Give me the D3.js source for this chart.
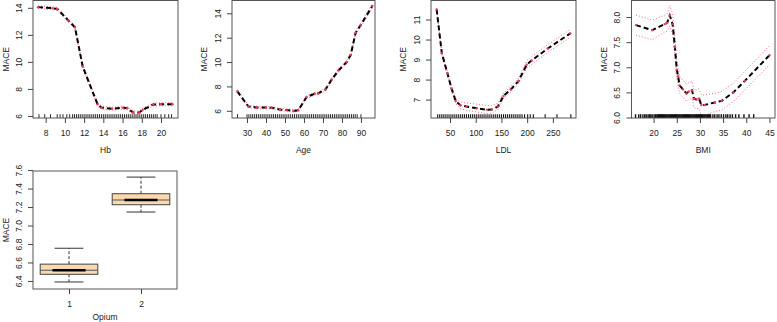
<!DOCTYPE html>
<html><head><meta charset="utf-8">
<script src="https://cdn.jsdelivr.net/npm/d3@7"></script>
<style>
body{margin:0;background:#fff;}
svg text{font-family:"Liberation Sans",Arial,Helvetica,sans-serif;fill:#222;font-size:8.5px;}
</style></head><body>
<svg id="chart" width="777" height="322"></svg>
<script>
// ---------- Hb ----------
const hbX  = [7.2, 8.7, 9.2, 10.35, 11.05, 11.85, 13.4, 13.8, 14.9, 16.0, 16.5, 17.1, 17.75, 18.1, 19.2, 20.0, 21.2];
const hbY  = [14.05, 13.97, 13.92, 13.07, 12.55, 9.66, 6.86, 6.62, 6.53, 6.62, 6.57, 6.26, 6.26, 6.46, 6.85, 6.87, 6.87];
const hbLo = [13.95, 13.87, 13.81, 12.95, 12.42, 9.52, 6.74, 6.5, 6.42, 6.5, 6.45, 6.14, 6.15, 6.35, 6.74, 6.76, 6.74];
const hbHi = [14.15, 14.07, 14.03, 13.19, 12.68, 9.8, 6.98, 6.74, 6.64, 6.74, 6.69, 6.38, 6.37, 6.57, 6.96, 6.98, 7.0];
const hbRug = [7.3, 7.9, 8.5, 9.2, 9.5, 9.8, 10.2, 10.5, 10.8, 11.0, 11.2, 11.4, 11.6, 11.8, 12.0, 12.2, 12.4, 12.6, 12.8,
  13.0, 13.2, 13.4, 13.6, 13.8, 14.0, 14.2, 14.4, 14.6, 14.8, 15.0, 15.2, 15.4, 15.6, 15.8, 16.0, 16.2, 16.4, 16.6, 16.8,
  17.0, 17.2, 17.4, 17.6, 17.8, 18.0, 18.2, 18.4, 18.6, 18.8, 19.0, 19.2, 19.4, 19.6, 20.0, 20.4, 20.8, 21.1];
const hbXTicks = [8, 10, 12, 14, 16, 18, 20];
const hbYTicks = [6, 8, 10, 12, 14];

// ---------- Age ----------
const ageX  = [24.9, 30.7, 35.1, 40, 43, 47.4, 50.9, 54.4, 57, 61.4, 65.8, 67.5, 71.4, 74.6, 78.1, 82.5, 84.6, 87.2, 89.8, 96];
const ageY  = [7.6, 6.36, 6.27, 6.27, 6.25, 6.11, 6.06, 5.98, 6.05, 7.13, 7.41, 7.43, 7.76, 8.57, 9.3, 10.0, 10.59, 12.4, 13.02, 14.6];
const ageLo = [7.48, 6.26, 6.17, 6.17, 6.15, 6.01, 5.96, 5.88, 5.95, 7.02, 7.3, 7.32, 7.64, 8.45, 9.17, 9.86, 10.45, 12.24, 12.86, 14.42];
const ageHi = [7.72, 6.46, 6.37, 6.37, 6.35, 6.21, 6.16, 6.08, 6.15, 7.24, 7.52, 7.54, 7.88, 8.69, 9.43, 10.14, 10.73, 12.56, 13.18, 14.78];
const ageRug = [25, 30, 31, 32, 33, 34, 35, 36, 37, 38, 39, 40, 41, 42, 43, 44, 45, 46, 47, 48, 49, 50, 51, 52, 53, 54, 55,
  56, 57, 58, 59, 60, 61, 62, 63, 64, 65, 66, 67, 68, 69, 70, 71, 72, 73, 74, 75, 76, 77, 78, 79, 80, 81, 82, 83, 84, 85, 86, 87, 88, 90];
const ageXTicks = [30, 40, 50, 60, 70, 80, 90];
const ageYTicks = [6, 8, 10, 12, 14];

// ---------- LDL ----------
const ldlX  = [24, 34, 45, 53, 61, 70, 82, 102, 122, 131, 143, 154, 168, 183, 199, 209, 240, 284];
const ldlY  = [11.5, 9.32, 8.3, 7.55, 6.93, 6.72, 6.65, 6.57, 6.49, 6.5, 6.65, 7.18, 7.5, 7.92, 8.74, 8.96, 9.55, 10.31];
const ldlLo = [11.44, 9.24, 8.2, 7.44, 6.8, 6.55, 6.47, 6.38, 6.3, 6.32, 6.5, 7.05, 7.38, 7.78, 8.56, 8.76, 9.36, 10.11];
const ldlHi = [11.56, 9.4, 8.4, 7.66, 7.06, 6.88, 6.83, 6.77, 6.7, 6.7, 6.82, 7.32, 7.64, 8.06, 8.94, 9.16, 9.74, 10.51];
const ldlRug = [26, 30, 34, 38, 42, 46, 50, 54, 58, 62, 66, 70, 74, 78, 82, 86, 90, 94, 98, 102, 106, 110, 114, 118, 122,
  126, 130, 134, 138, 142, 146, 150, 154, 158, 162, 166, 170, 174, 178, 182, 186, 190, 195, 201, 206, 212, 235, 258, 285];
const ldlXTicks = [50, 100, 150, 200, 250];
const ldlYTicks = [7, 8, 9, 10, 11];

// ---------- BMI ----------
const bmiX  = [16.2, 19.7, 22.4, 22.9, 23.5, 24.1, 24.6, 25.0, 25.3, 25.6, 26.35, 27.1, 27.6, 28.3, 28.7, 29.3, 29.8, 30.3, 31.05, 33.2, 34.7, 37.2, 39.7, 45.0];
const bmiY  = [7.84, 7.74, 7.86, 7.88, 8.03, 7.86, 7.4, 6.95, 6.82, 6.64, 6.56, 6.48, 6.52, 6.54, 6.37, 6.36, 6.38, 6.25, 6.25, 6.3, 6.33, 6.5, 6.73, 7.24];
const bmiLo = [7.64, 7.55, 7.7, 7.72, 7.82, 7.66, 7.22, 6.78, 6.65, 6.48, 6.4, 6.32, 6.36, 6.38, 6.2, 6.18, 6.18, 6.05, 6.04, 6.12, 6.15, 6.32, 6.55, 7.05];
const bmiHi = [8.04, 7.94, 8.04, 8.06, 8.23, 8.06, 7.6, 7.13, 7.0, 6.82, 6.74, 6.66, 6.7, 6.72, 6.55, 6.55, 6.57, 6.45, 6.45, 6.48, 6.52, 6.68, 6.92, 7.43];
const bmiRug = [16.1, 16.8, 17.2, 17.7, 18.1, 18.4, 18.8, 19.1, 19.4, 19.7, 20.1, 20.4, 20.7, 20.9, 21.1,
  21.3, 21.5, 21.7, 21.9, 22.1, 22.3, 22.5, 22.7, 22.9, 23.1, 23.3, 23.5, 23.7, 23.9, 24.1, 24.3, 24.5, 24.7, 24.9,
  25.1, 25.3, 25.5, 25.7, 25.9, 26.1, 26.3, 26.5, 26.7, 26.9, 27.1, 27.3, 27.5, 27.7, 27.9, 28.1, 28.3, 28.5, 28.7, 28.9,
  29.1, 29.3, 29.5, 29.7, 29.9, 30.1, 30.3, 30.5, 30.7, 30.9, 31.1, 31.3, 31.5, 31.7, 31.9, 32.1, 32.3,
  32.8, 33.2, 33.7, 34.1, 34.6, 35.1, 35.6, 36.0, 36.5, 37.0, 37.7, 38.4, 39.5, 40.6, 41.6];
const bmiXTicks = [20, 25, 30, 35, 40, 45];
const bmiYTicks = [6.0, 6.5, 7.0, 7.5, 8.0];

// ---------- Opium boxplot ----------
const opiumGroups = ["1", "2"];
const opiumLowWhisker = [6.389, 7.146];
const opiumQ1 = [6.472, 7.225];
const opiumMedian = [6.516, 7.276];
const opiumQ3 = [6.582, 7.344];
const opiumHighWhisker = [6.754, 7.524];
const opiumYTicks = [6.4, 6.6, 6.8, 7.0, 7.2, 7.4, 7.6];

const svg = d3.select("#chart");
const TXT = "#222";
const RED = "#ee3d5c";
const FS = "8.5px";

function axes(g, x, y, W, H, xTicks, yTicks, yFmt, xFmt, xLabel, xTitleOff, left) {
  const ax = g.append("g").attr("transform", `translate(0,${H})`)
    .call(d3.axisBottom(x).tickValues(xTicks).tickSize(5).tickFormat(xFmt));
  ax.select(".domain").remove();
  ax.selectAll("line").attr("stroke", "#444");
  ax.selectAll("text").attr("y", 15).attr("dy", "0.35em").attr("fill", TXT).style("font-size", FS);
  const ay = g.append("g").call(d3.axisLeft(y).tickValues(yTicks).tickSize(5).tickFormat(yFmt));
  ay.select(".domain").remove();
  ay.selectAll("line").attr("stroke", "#444");
  ay.selectAll("text").attr("x", null)
    .attr("transform", "translate(-14,0) rotate(-90)")
    .attr("dy", "0.35em").attr("text-anchor", "middle").attr("fill", TXT).style("font-size", FS);
  g.append("text").attr("x", W / 2).attr("y", H + xTitleOff).attr("dy", "0.35em")
    .attr("text-anchor", "middle").text(xLabel);
  g.append("text").attr("transform", `translate(${Math.max(-27.5, -left + 6.5)},${H / 2}) rotate(-90)`)
    .attr("dy", "0.35em").attr("text-anchor", "middle").text("MACE");
}

function curvePanel(p) {
  const W = p.width, H = p.height;
  const g = svg.append("g").attr("transform", `translate(${p.left},${p.top})`);
  const x = d3.scaleLinear().domain(p.xDomain).range([0, W]);
  const y = d3.scaleLinear().domain(p.yDomain).range([H, 0]);
  const idx = d3.range(p.xs.length);
  const line = arr => d3.line().x(i => x(p.xs[i])).y(i => y(arr[i]))(idx);
  g.append("path").attr("d", line(p.lo)).attr("fill", "none").attr("stroke", RED)
    .attr("stroke-width", 0.9).attr("stroke-dasharray", "1,2").attr("opacity", 0.85);
  g.append("path").attr("d", line(p.hi)).attr("fill", "none").attr("stroke", RED)
    .attr("stroke-width", 0.9).attr("stroke-dasharray", "1,2").attr("opacity", 0.85);
  g.append("path").attr("d", line(p.ys)).attr("fill", "none").attr("stroke", "#000")
    .attr("stroke-width", 2).attr("stroke-dasharray", "5,3");
  g.selectAll("circle.k").data(idx).join("circle").attr("class", "k")
    .attr("cx", i => x(p.xs[i])).attr("cy", i => y(p.ys[i])).attr("r", 1.2).attr("fill", RED);
  g.selectAll("line.rug").data(p.rug).join("line").attr("class", "rug")
    .attr("x1", d => x(d)).attr("x2", d => x(d)).attr("y1", H).attr("y2", H - 3.8)
    .attr("stroke", "#111").attr("stroke-width", p.rugW);
  g.append("rect").attr("x", 0).attr("y", 0).attr("width", W).attr("height", H)
    .attr("fill", "none").attr("stroke", "#555").attr("stroke-width", 1);
  axes(g, x, y, W, H, p.xTicks, p.yTicks, p.yFmt, d3.format("d"), p.xLabel, 32, p.left);
}

const row1Top = 0.5, row1H = 117.5;
curvePanel({left: 33, top: row1Top, width: 145, height: row1H, xDomain: [6.68, 21.77], yDomain: [5.85, 14.54], rugW: 0.9,
  xs: hbX, ys: hbY, lo: hbLo, hi: hbHi, rug: hbRug, xTicks: hbXTicks, yTicks: hbYTicks, yFmt: d3.format("d"), xLabel: "Hb"});
curvePanel({left: 232, top: row1Top, width: 143, height: row1H, xDomain: [22.1, 97.4], yDomain: [5.41, 15.05], rugW: 0.9,
  xs: ageX, ys: ageY, lo: ageLo, hi: ageHi, rug: ageRug, xTicks: ageXTicks, yTicks: ageYTicks, yFmt: d3.format("d"), xLabel: "Age"});
curvePanel({left: 431, top: row1Top, width: 145, height: row1H, xDomain: [13, 295], yDomain: [6.08, 11.95], rugW: 1.1,
  xs: ldlX, ys: ldlY, lo: ldlLo, hi: ldlHi, rug: ldlRug, xTicks: ldlXTicks, yTicks: ldlYTicks, yFmt: d3.format("d"), xLabel: "LDL"});
curvePanel({left: 631.5, top: row1Top, width: 143.5, height: row1H, xDomain: [15.23, 46.2], yDomain: [5.99, 8.33], rugW: 1.4,
  xs: bmiX, ys: bmiY, lo: bmiLo, hi: bmiHi, rug: bmiRug, xTicks: bmiXTicks, yTicks: bmiYTicks, yFmt: d3.format(".1f"), xLabel: "BMI"});

// boxplot
(function () {
  const p = {left: 33, top: 171, width: 144, height: 118};
  const W = p.width, H = p.height;
  const g = svg.append("g").attr("transform", `translate(${p.left},${p.top})`);
  const x = d3.scaleLinear().domain([0.5, 2.5]).range([0, W]);
  const y = d3.scaleLinear().domain([6.313, 7.59]).range([H, 0]);
  const bw = 0.4, cap = 0.2;
  opiumGroups.forEach((grp, i) => {
    const c = i + 1;
    g.append("line").attr("x1", x(c)).attr("x2", x(c)).attr("y1", y(opiumQ3[i])).attr("y2", y(opiumHighWhisker[i]))
      .attr("stroke", "#333").attr("stroke-dasharray", "3,2");
    g.append("line").attr("x1", x(c)).attr("x2", x(c)).attr("y1", y(opiumQ1[i])).attr("y2", y(opiumLowWhisker[i]))
      .attr("stroke", "#333").attr("stroke-dasharray", "3,2");
    [opiumHighWhisker[i], opiumLowWhisker[i]].forEach(v => g.append("line")
      .attr("x1", x(c - cap)).attr("x2", x(c + cap)).attr("y1", y(v)).attr("y2", y(v)).attr("stroke", "#333"));
    g.append("rect").attr("x", x(c - bw)).attr("y", y(opiumQ3[i])).attr("width", x(c + bw) - x(c - bw))
      .attr("height", y(opiumQ1[i]) - y(opiumQ3[i])).attr("fill", "#f9d9ad").attr("stroke", "#444");
    g.append("line").attr("x1", x(c - bw)).attr("x2", x(c + bw)).attr("y1", y(opiumMedian[i])).attr("y2", y(opiumMedian[i]))
      .attr("stroke", "#555").attr("stroke-width", 1);
    g.append("line").attr("x1", x(c - 0.23)).attr("x2", x(c + 0.23)).attr("y1", y(opiumMedian[i])).attr("y2", y(opiumMedian[i]))
      .attr("stroke", "#000").attr("stroke-width", 2.5);
  });
  g.append("rect").attr("x", 0).attr("y", 0).attr("width", W).attr("height", H)
    .attr("fill", "none").attr("stroke", "#555").attr("stroke-width", 1);
  axes(g, x, y, W, H, [1, 2], opiumYTicks, d3.format(".1f"), (d, i) => opiumGroups[i], "Opium", 28, p.left);
})();
</script>
</body></html>
